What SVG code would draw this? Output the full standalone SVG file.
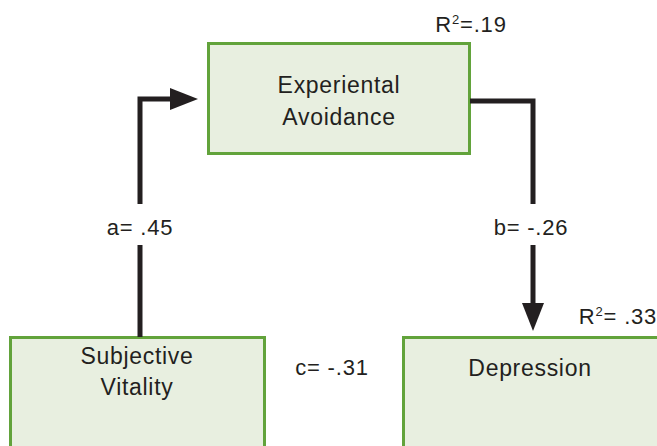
<svg xmlns="http://www.w3.org/2000/svg" width="657" height="446" viewBox="0 0 657 446">
<style>
.box{fill:#e8efe0;stroke:#62a33b;stroke-width:3}
.t{font-family:"Liberation Sans",Arial,sans-serif;font-size:23px;letter-spacing:0.7px;fill:#231f20;text-anchor:middle}
.l{font-family:"Liberation Sans",Arial,sans-serif;font-size:22px;letter-spacing:0.8px;fill:#231f20;text-anchor:middle}
.c{fill:none;stroke:#231f20;stroke-width:5}
.h{fill:#231f20}
</style>
<rect width="657" height="446" fill="#ffffff"/>
<g id="experiential-avoidance">
<rect class="box" x="208.5" y="43.5" width="261" height="110"/>
<text class="t" x="339" y="93">Experiental</text>
<text class="t" x="339" y="125">Avoidance</text>
</g>
<g id="subjective-vitality">
<rect class="box" x="10.5" y="337.5" width="254" height="115"/>
<text class="t" x="137" y="364">Subjective</text>
<text class="t" x="137" y="395">Vitality</text>
</g>
<g id="depression">
<rect class="box" x="403.5" y="337.5" width="260" height="115"/>
<text class="t" x="530" y="376">Depression</text>
</g>
<g id="connectors">
<polyline class="c" points="140,337 140,245"/>
<polyline class="c" points="140,204 140,99 172,99"/>
<polygon class="h" points="170,88 198,99 170,110"/>
<polyline class="c" points="470,101 533,101 533,204"/>
<polyline class="c" points="533,245 533,305"/>
<polygon class="h" points="522,303 544,303 533,331"/>
</g>
<g id="labels">
<text class="l" x="140" y="235">a= .45</text>
<text class="l" x="531" y="235">b= -.26</text>
<text class="l" x="332" y="375">c= -.31</text>
<text class="l" x="471" y="32">R<tspan font-size="13" dy="-8">2</tspan><tspan dy="8">=.19</tspan></text>
<text class="l" x="618" y="324">R<tspan font-size="13" dy="-8">2</tspan><tspan dy="8">= .33</tspan></text>
</g>
</svg>
